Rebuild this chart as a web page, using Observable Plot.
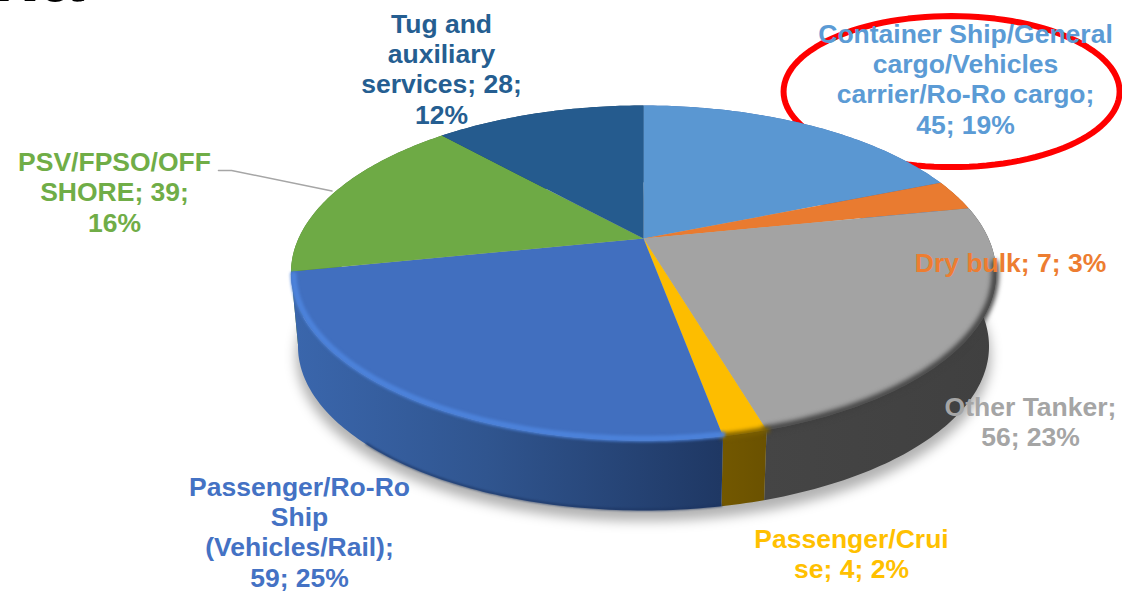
<!DOCTYPE html>
<html>
<head>
<meta charset="utf-8">
<style>html,body{margin:0;padding:0;background:#fff}svg{display:block}</style>
<script src="https://cdn.jsdelivr.net/npm/d3@7"></script>
<script src="https://cdn.jsdelivr.net/npm/@observablehq/plot@0.6"></script>
</head>
<body>
<div id="chart"></div>
<script>
const categories = ["Container Ship/General cargo/Vehicles carrier/Ro-Ro cargo","Dry bulk","Other Tanker","Passenger/Cruise","Passenger/Ro-Ro Ship (Vehicles/Rail)","PSV/FPSO/OFF SHORE","Tug and auxiliary services"];
const values = [45, 7, 56, 4, 59, 39, 28];
const colors = ["#5B9BD5","#ED7D31","#A5A5A5","#FFC000","#4472C4","#70AD47","#255E91"];
const topColors = ["#5A97D2","#E97B30","#A3A3A3","#FDBD00","#416FBF","#6EAA45","#255B8E"];
const labelTexts = [
  "Container Ship/General\ncargo/Vehicles\ncarrier/Ro-Ro cargo;\n45; 19%",
  "Dry bulk; 7; 3%",
  "Other Tanker;\n56; 23%",
  "Passenger/Crui\nse; 4; 2%",
  "Passenger/Ro-Ro\nShip\n(Vehicles/Rail);\n59; 25%",
  "PSV/FPSO/OFF\nSHORE; 39;\n16%",
  "Tug and\nauxiliary\nservices; 28;\n12%"
];
const labelX = [965, 1010, 1030, 851, 299, 114, 441];
const labelY = [78, 262, 421, 553, 531, 191, 68];

const W = 1122, H = 592;
const persp = 0.206, wallDrop = 74 / 160.4, wallScale = 0.98;
const total = d3.sum(values);
const cum = d3.cumsum(values);
const rad = v => v / total * 2 * Math.PI;
// perspective disc in pie units
const disc = (t, r = 1, s = 1, drop = 0) => {
  const d = 1 + persp * r * Math.cos(t);
  return [s * r * Math.sin(t) / d, s * r * Math.cos(t) / d - drop];
};
const arc = (a, b, r = 1, s = 1, drop = 0) => {
  const n = Math.max(2, Math.ceil(Math.abs(b - a) * 60));
  return d3.range(n + 1).map(i => disc(a + (b - a) * i / n, r, s, drop));
};
const slices = values.map((v, i) => ({a: rad(cum[i] - v), b: rad(cum[i]), color: topColors[i], name: categories[i]}));
const poly = (pts, o) => Plot.line(pts, {x: d => d[0], y: d => d[1], stroke: "none", ...o});

const wallFill = ["#3f6cb0","#a85a22","url(#wallGray)","url(#wallYellow)","url(#wallBlue)","#4e7a32","#1a4468"];
const wallOrder = [0, 6, 5, 1, 2, 3, 4];

const defs = () => {
  const d = d3.create("svg:defs");
  const g = (id, x1, x2, stops) => {
    const l = d.append("linearGradient").attr("id", id).attr("gradientUnits", "userSpaceOnUse")
      .attr("x1", x1).attr("x2", x2).attr("y1", 0).attr("y2", 0);
    stops.forEach(([o, c]) => l.append("stop").attr("offset", o).attr("stop-color", c));
  };
  g("wallBlue", 295, 720, [[0, "#3a66ac"], [0.45, "#30558f"], [1, "#1f3864"]]);
  g("wallYellow", 720, 763, [[0, "#735800"], [1, "#6b5200"]]);
  g("wallGray", 763, 995, [[0, "#454545"], [1, "#404040"]]);
  return d.node();
};

const ringPts = d3.range(0, 361, 3).map(a => [0.893 + 0.487 * Math.cos(a * Math.PI / 180), 0.916 + 0.471 * Math.sin(a * Math.PI / 180)]);
const psvMid = (slices[5].a + slices[5].b) / 2;
const leaderEnd = disc(psvMid, 1.012);
const leader = [[-1.232, 0.424], [-1.194, 0.424], leaderEnd];

const plot = Plot.plot({
  width: W, height: H, margin: 0,
  x: {domain: [-643 / 345, (W - 643) / 345], range: [0, W], axis: null},
  y: {domain: [238 / 160.4, (238 - H) / 160.4], range: [0, H], axis: null},
  style: {background: "#fff", overflow: "hidden"},
  marks: [
    defs,
    Plot.text(["na"], {text: d => d, frameAnchor: "top-left", dx: -8, dy: 0, textAnchor: "start", lineAnchor: "bottom", fontSize: 78, fontWeight: 700, fontFamily: "Liberation Sans", fill: "#000"}),
    poly(ringPts, {stroke: "#FF0000", strokeWidth: 6, fill: "none"}),
    // soft shadow under the disc
    poly(arc(0, 2 * Math.PI, 1, 0.985, wallDrop + 0.06), {fill: "#000", fillOpacity: 0.3, imageFilter: "blur(6px)"}),
    // side walls
    ...wallOrder.map(i => {
      const s = slices[i];
      return poly([...arc(s.a, s.b), ...arc(s.b, s.a, 1, wallScale, wallDrop)], {fill: wallFill[i]});
    }),
    // dark lower edge of the blue wall
    poly(arc(slices[4].a, slices[4].b - 0.6, 1, wallScale, wallDrop - 0.004), {stroke: "#1c3360", strokeWidth: 2, strokeOpacity: 0.8, imageFilter: "blur(1px)"}),
    // top face
    ...slices.map(s => poly([[0, 0], ...arc(s.a, s.b)], {fill: s.color})),
    // bevel rims
    poly(arc(slices[2].a + 0.35, slices[2].b, 0.998), {stroke: "#404040", strokeWidth: 7, imageFilter: "blur(2.5px)"}),
    poly(arc(slices[3].a, slices[3].b, 1.0), {stroke: "#7a5e00", strokeWidth: 6, imageFilter: "blur(2px)"}),
    poly(arc(slices[4].a, slices[4].b - 0.02, 0.993), {stroke: "#4c82da", strokeWidth: 6, imageFilter: "blur(1.5px)"}),
    // leader of the PSV label
    poly(leader, {stroke: "#A6A6A6", strokeWidth: 1.5}),
    // labels
    ...labelTexts.map((t, i) => Plot.text([t], {
      text: d => d, frameAnchor: "top-left", dx: labelX[i], dy: labelY[i],
      textAnchor: "middle", lineAnchor: "middle", lineHeight: 1.15,
      fontSize: 26.5, fontWeight: 700, fontFamily: "Liberation Sans", fill: colors[i]
    }))
  ]
});
document.getElementById("chart").append(plot);
</script>
</body>
</html>
